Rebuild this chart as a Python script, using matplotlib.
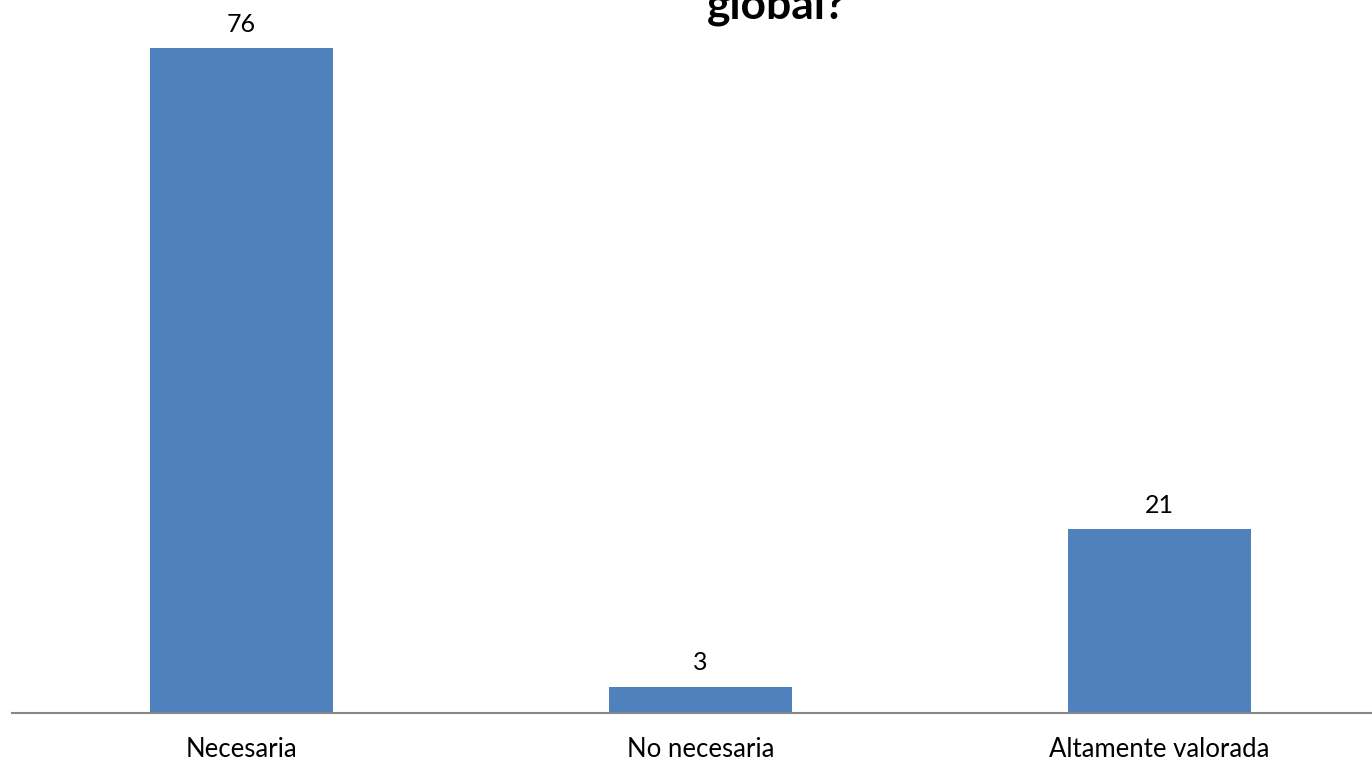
import matplotlib
matplotlib.use("Agg")
import matplotlib.pyplot as plt

categories = ["Necesaria", "No necesaria", "Altamente valorada"]
values = [76, 3, 21]
title_text = "global?"

plt.rcParams["font.family"] = ["Lato", "DejaVu Sans"]

W, H, DPI = 1372, 762, 100
fig = plt.figure(figsize=(W / DPI, H / DPI), dpi=DPI)

# axes geometry in pixels (category band 459 px, baseline at y=713)
left_px, band_px, base_px, ymax = 12, 459, 713, 80
ax = fig.add_axes([left_px / W, (H - base_px) / H, 3 * band_px / W, ymax * 8.75 / H])

x = range(len(categories))
bars = ax.bar(x, values, width=0.4, color="#4F81BD")
ax.set_xlim(-0.5, 2.5)
ax.set_ylim(0, ymax)

for rect, v in zip(bars, values):
    ax.annotate(str(v), (rect.get_x() + rect.get_width() / 2, v),
                xytext=(0, 9), textcoords="offset points",
                ha="center", va="bottom", fontsize=18, color="#000000")

ax.set_xticks(list(x))
ax.set_xticklabels(categories, fontsize=18.5)
ax.tick_params(axis="x", length=0, pad=17)
ax.set_yticks([])
for s in ["top", "right", "left"]:
    ax.spines[s].set_visible(False)
ax.spines["bottom"].set_color("#868686")
ax.spines["bottom"].set_linewidth(1.5)

fig.text(777 / W, 1 - 19 / H, title_text, ha="center", va="baseline",
         fontsize=32, fontweight="bold")

fig.savefig("out.png", dpi=DPI)
